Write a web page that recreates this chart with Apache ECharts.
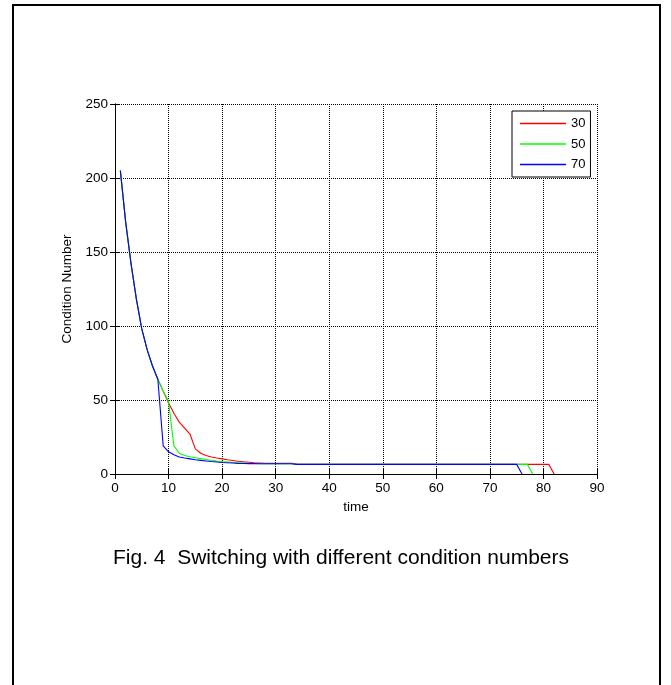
<!DOCTYPE html>
<html>
<head>
<meta charset="utf-8">
<script src="https://cdn.jsdelivr.net/npm/echarts@6/dist/echarts.min.js"></script>
<style>
html,body{margin:0;padding:0;background:#fff;}
#chart{width:671px;height:685px;}
</style>
</head>
<body>
<div id="chart"></div>
<script>
const time = [1,2,3,4,5,6,7,8,9,10,11,12,13,14,15,16,17,18,19,20,
  21,22,23,24,25,26,27,28,29,30,31,32,33,34,35,36,37,38,39,40,
  41,42,43,44,45,46,47,48,49,50,51,52,53,54,55,56,57,58,59,60,
  61,62,63,64,65,66,67,68,69,70,71,72,73,74,75,76,77,78,79,80,81,82];

const seriesNames = ['30', '50', '70'];

const values30 = [205,170,142,118,98,84,73,64,
  56,48,41,35,31,27,17,14,12.5,11.5,10.8,10.2,9.6,9.1,8.6,8.2,7.9,7.6,7.4,
  7.2,7.2,7.2,7.2,7.2,7.2,
  6.5,6.5,6.5,6.5,6.5,6.5,6.5,6.5,6.5,6.5,6.5,6.5,
  6.5,6.5,6.5,6.5,6.5,6.5,6.5,6.5,6.5,6.5,6.5,6.5,
  6.5,6.5,6.5,6.5,6.5,6.5,6.5,6.5,6.5,6.5,6.5,6.5,
  6.5,6.5,6.5,6.5,6.5,6.5,6.5,6.5,6.5,6.5,6.5,6.5,
  0];

const values50 = [205,170,142,118,98,84,73,64,
  56,49,19,14,12.5,11.6,11,10.4,9.8,9.3,8.8,8.4,8.1,7.8,7.6,7.4,7.2,7.1,7.0,
  6.9,6.9,6.9,6.9,6.9,6.9,
  6.5,6.5,6.5,6.5,6.5,6.5,6.5,6.5,6.5,6.5,6.5,6.5,
  6.5,6.5,6.5,6.5,6.5,6.5,6.5,6.5,6.5,6.5,6.5,6.5,
  6.5,6.5,6.5,6.5,6.5,6.5,6.5,6.5,6.5,6.5,6.5,6.5,
  6.5,6.5,6.5,6.5,6.5,6.5,6.5,6.5,
  0];

const values70 = [205,170,142,118,98,84,73,64,
  19,15,13,11.5,10.8,10.2,9.6,9.2,8.8,8.4,8.1,7.8,7.6,7.4,7.2,7.1,7.0,7.0,
  6.9,6.9,6.9,6.9,6.9,6.9,6.9,
  6.5,6.5,6.5,6.5,6.5,6.5,6.5,6.5,6.5,6.5,6.5,6.5,
  6.5,6.5,6.5,6.5,6.5,6.5,6.5,6.5,6.5,6.5,6.5,6.5,
  6.5,6.5,6.5,6.5,6.5,6.5,6.5,6.5,6.5,6.5,6.5,6.5,
  6.5,6.5,6.5,6.5,6.5,6.5,
  0];

const xTicks = [0,10,20,30,40,50,60,70,80,90];
const yTicks = [0,50,100,150,200,250];

const FONT = "'Liberation Sans', Arial, Helvetica, sans-serif";
const colors = ['#ff0000', '#00ff00', '#0000ff'];
const allValues = [values30, values50, values70];

function toPairs(vals) {
  return vals.map((v, i) => [time[i], v]);
}

const chart = echarts.init(document.getElementById('chart'), null, {renderer: 'canvas'});

const gridLine = {show: true, lineStyle: {color: '#000', width: 1, type: [1, 1]}};
const axisLine = {show: true, lineStyle: {color: '#000', width: 1}};
const tick = {show: true, inside: true, length: 5, lineStyle: {color: '#000'}};
const lbl = {color: '#000', fontSize: 13.5, fontFamily: FONT};

chart.setOption({
  animation: false,
  backgroundColor: '#fff',
  grid: {left: 115, top: 104, right: 74, bottom: 211, containLabel: false},
  legend: {
    data: seriesNames.map((n, i) => ({
      name: n,
      icon: 'path://M0,0 H46 V1.6 H0 Z',
      itemStyle: {color: colors[i], opacity: 1, borderWidth: 0},
      lineStyle: {color: colors[i], width: 0, opacity: 0}
    })),
    symbolKeepAspect: true,
    orient: 'vertical',
    left: 512, top: 111,
    padding: [6, 5, 6, 8],
    itemWidth: 46, itemHeight: 14, itemGap: 7.5,
    backgroundColor: '#fff',
    borderColor: '#000', borderWidth: 1,
    textStyle: {color: '#000', fontSize: 13, fontFamily: FONT}
  },
  xAxis: [{
    type: 'value', min: xTicks[0], max: xTicks[xTicks.length - 1], interval: 10,
    name: 'time', nameLocation: 'middle', nameGap: 24,
    nameTextStyle: {color: '#000', fontSize: 13.5, fontFamily: FONT},
    axisLine: axisLine, axisTick: tick, axisLabel: Object.assign({margin: 7}, lbl),
    splitLine: gridLine
  }, {
    type: 'value', position: 'top', min: xTicks[0], max: xTicks[xTicks.length - 1], interval: 10,
    axisLine: axisLine, axisTick: tick, axisLabel: {show: false}, splitLine: {show: false}
  }],
  yAxis: [{
    type: 'value', min: yTicks[0], max: yTicks[yTicks.length - 1], interval: 50,
    name: 'Condition Number', nameLocation: 'middle', nameGap: 38,
    nameTextStyle: {color: '#000', fontSize: 13.5, fontFamily: FONT},
    axisLine: axisLine, axisTick: tick, axisLabel: Object.assign({margin: 7}, lbl),
    splitLine: gridLine
  }, {
    type: 'value', position: 'right', min: yTicks[0], max: yTicks[yTicks.length - 1], interval: 50,
    axisLine: axisLine, axisTick: tick, axisLabel: {show: false}, splitLine: {show: false}
  }],
  series: seriesNames.map((n, i) => ({
    name: n, type: 'line', xAxisIndex: 0, yAxisIndex: 0,
    data: toPairs(allValues[i]),
    symbol: 'none', showSymbol: false,
    lineStyle: {color: colors[i], width: 1.1},
    itemStyle: {color: colors[i]},
    z: 3 + i
  })),
  graphic: [{
    type: 'rect', silent: true,
    shape: {x: 13, y: 5, width: 647, height: 720},
    style: {fill: 'none', stroke: '#000', lineWidth: 2},
    z: 100
  }, {
    type: 'text', silent: true,
    x: 341, y: 558,
    style: {text: 'Fig. 4  Switching with different condition numbers', fill: '#000',
      font: '21px ' + FONT, textAlign: 'center', textVerticalAlign: 'middle'},
    z: 100
  }]
});
</script>
</body>
</html>
